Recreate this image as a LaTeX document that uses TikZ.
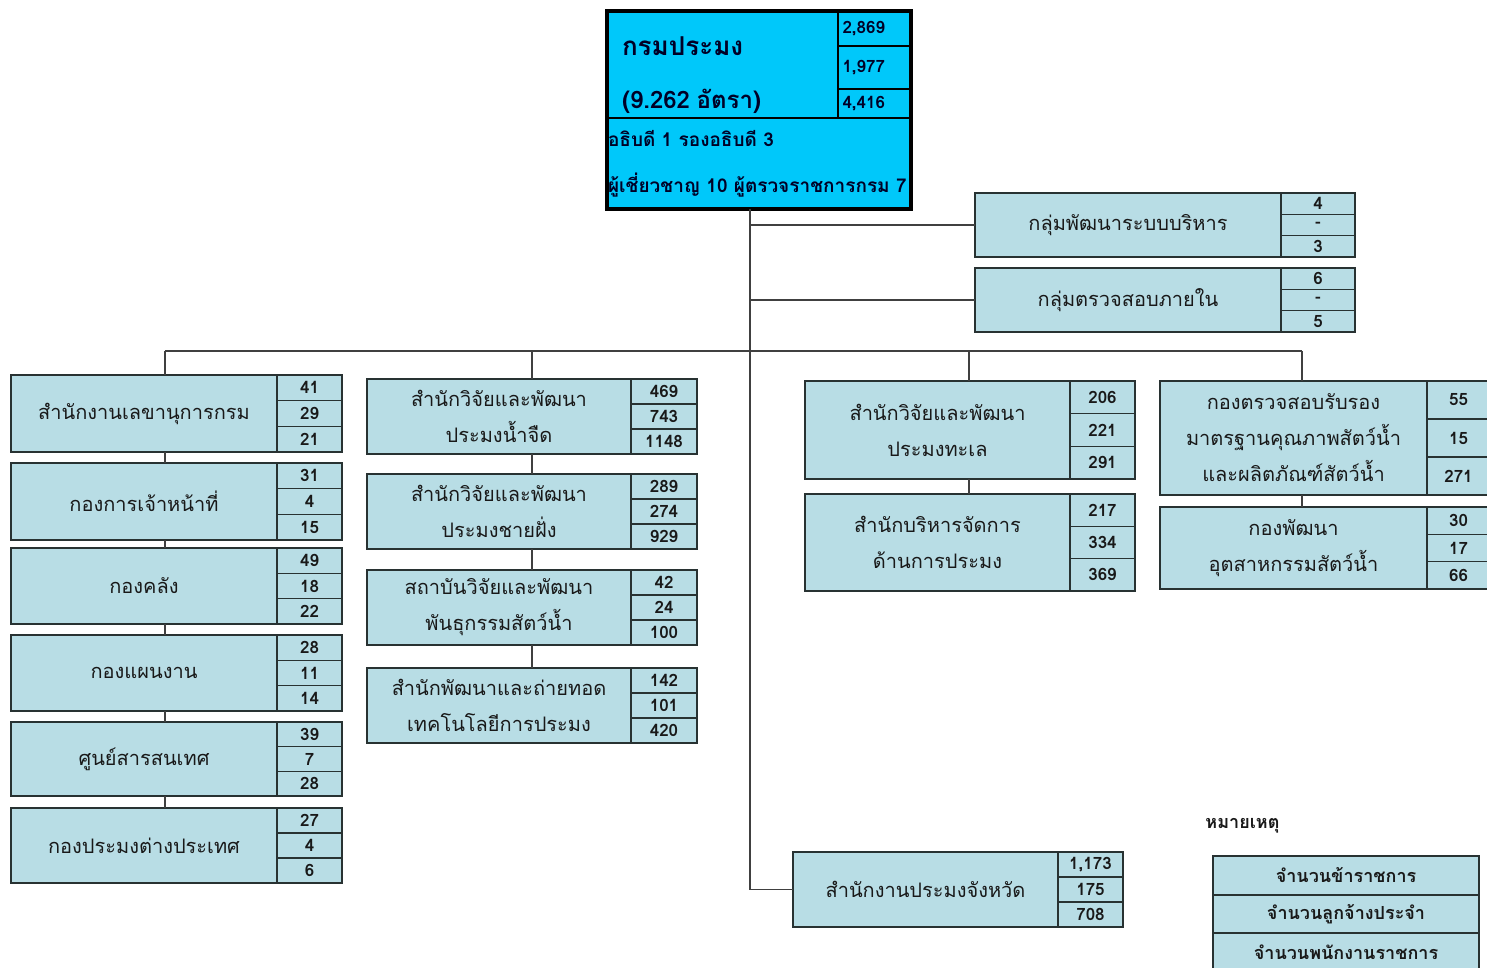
\documentclass[tikz,border=0pt]{standalone}
\usepackage{fontspec}
\setmainfont[Script=Thai]{Loma}
\usetikzlibrary{positioning}
\definecolor{krombg}{HTML}{00C8FA}
\definecolor{unitbg}{HTML}{B8DDE5}
\definecolor{edge}{HTML}{283232}
\tikzstyle{namebox} = [draw=edge, fill=unitbg, line width=1pt, inner sep=0pt, outer sep=0pt, align=center, text=black!90, font=\fontsize{10}{18}\selectfont]
\tikzstyle{numbox} = [draw=edge, fill=unitbg, line width=0.8pt, inner sep=0pt, outer sep=0pt, text=black!90, font=\fontsize{8.5}{10}\selectfont\bfseries]
\tikzstyle{topbox} = [draw=black, fill=krombg, line width=1.2pt, inner sep=0pt, outer sep=0pt, align=left, text=black!85!blue, font=\bfseries]
\tikzstyle{legendbox} = [draw=edge, fill=unitbg, line width=1pt, inner sep=0pt, outer sep=0pt, text=black!90, font=\fontsize{9}{10}\selectfont\bfseries]
\tikzstyle{link} = [draw=black!75, line width=0.8pt]
% name, top left, width, height, number column, text, numbers
\newcommand{\orgunit}[9]{%
	\node[namebox, minimum width={(#3-#5)*0.5pt}, minimum height={#4*0.5pt}, anchor=north west] (#1) at (#2) {#6};
	\node[numbox, minimum width={#5*0.5pt}, minimum height={#4*0.5pt/3}, anchor=north west] (#1-1) at (#1.north east) {#7};
	\node[numbox, minimum width={#5*0.5pt}, minimum height={#4*0.5pt/3}, anchor=north west] (#1-2) at (#1-1.south west) {#8};
	\node[numbox, minimum width={#5*0.5pt}, minimum height={#4*0.5pt/3}, anchor=north west] (#1-3) at (#1-2.south west) {#9};
}
\begin{document}
\begin{tikzpicture}[x=0.5pt, y=-0.5pt]
	\clip (0,0) rectangle (1487,968);
	\fill[white] (0,0) rectangle (1487,968);
	\coordinate (trunkx) at (750,0);
	\coordinate (busL) at (165,351);
	\coordinate (busM) at (532,351);
	\coordinate (busC) at (969,351);
	\coordinate (busR) at (1302,351);

	% top
	\node[topbox, minimum width=115.5pt, minimum height=53.5pt, text width=100.5pt, inner xsep=7.5pt, anchor=north west] (krom) at (607,11) {\rule{0pt}{17.5pt}{\fontsize{13}{16}\selectfont กรมประมง}\\[14.5pt]\raisebox{0pt}[\height][0pt]{\fontsize{12}{16}\selectfont (9.262 อัตรา)}};
	\node[topbox, minimum width=36.5pt, minimum height=17.5pt, text width=32pt, inner xsep=2.25pt, anchor=north west, font=\fontsize{8.5}{10}\selectfont\bfseries] (krom-1) at (krom.north east) {2,869};
	\node[topbox, minimum width=36.5pt, minimum height=21.5pt, text width=32pt, inner xsep=2.25pt, anchor=north west, font=\fontsize{8.5}{10}\selectfont\bfseries] (krom-2) at (krom-1.south west) {1,977};
	\node[topbox, minimum width=36.5pt, minimum height=14.5pt, text width=32pt, inner xsep=2.25pt, anchor=north west, font=\fontsize{8.5}{10}\selectfont\bfseries] (krom-3) at (krom-2.south west) {4,416};
	\node[topbox, minimum width=152pt, minimum height=45.5pt, text width=151pt, inner xsep=0.5pt, anchor=north west, font=\fontsize{9.5}{23}\selectfont\bfseries] (kromstaff) at (krom.south west) {อธิบดี 1 รองอธิบดี 3\\ผู้เชี่ยวชาญ 10 ผู้ตรวจราชการกรม 7};
	\draw[line width=1.6pt] (krom.north west) rectangle (kromstaff.south east);

	% groups
	\orgunit{devgroup}{975,193}{380}{64}{74}{กลุ่มพัฒนาระบบบริหาร}{4}{-}{3}
	\orgunit{auditgroup}{975,268}{380}{64}{74}{กลุ่มตรวจสอบภายใน}{6}{-}{5}

	% left column
	\orgunit{secretary}{11,375}{331}{77}{65}{สำนักงานเลขานุการกรม}{41}{29}{21}
	\orgunit{personnel}{11,463}{331}{77}{65}{กองการเจ้าหน้าที่}{31}{4}{15}
	\orgunit{finance}{11,548}{331}{76}{65}{กองคลัง}{49}{18}{22}
	\orgunit{planning}{11,635}{331}{76}{65}{กองแผนงาน}{28}{11}{14}
	\orgunit{infocenter}{11,722}{331}{74}{65}{ศูนย์สารสนเทศ}{39}{7}{28}
	\orgunit{foreign}{11,808}{331}{75}{65}{กองประมงต่างประเทศ}{27}{4}{6}

	% middle column
	\orgunit{freshwater}{367,379}{330}{75}{66}{สำนักวิจัยและพัฒนา\\ประมงน้ำจืด}{469}{743}{1148}
	\orgunit{coastal}{367,474}{330}{75}{66}{สำนักวิจัยและพัฒนา\\ประมงชายฝั่ง}{289}{274}{929}
	\orgunit{genetics}{367,570}{330}{75}{66}{สถาบันวิจัยและพัฒนา\\พันธุกรรมสัตว์น้ำ}{42}{24}{100}
	\orgunit{techtransfer}{367,668}{330}{75}{66}{สำนักพัฒนาและถ่ายทอด\\เทคโนโลยีการประมง}{142}{101}{420}

	% right columns
	\orgunit{marine}{805,381}{330}{98}{65}{สำนักวิจัยและพัฒนา\\ประมงทะเล}{206}{221}{291}
	\orgunit{fishmgmt}{805,494}{330}{97}{65}{สำนักบริหารจัดการ\\ด้านการประมง}{217}{334}{369}
	\orgunit{quality}{1160,381}{330}{114}{63}{กองตรวจสอบรับรอง\\มาตรฐานคุณภาพสัตว์น้ำ\\และผลิตภัณฑ์สัตว์น้ำ}{55}{15}{271}
	\orgunit{industry}{1160,507}{330}{82}{63}{กองพัฒนา\\อุตสาหกรรมสัตว์น้ำ}{30}{17}{66}

	% province
	\orgunit{province}{793,852}{330}{75}{65}{สำนักงานประมงจังหวัด}{1,173}{175}{708}

	% connectors
	\draw[link] (kromstaff.south -| trunkx) |- (province.west);
	\draw[link] (devgroup.west -| trunkx) -- (devgroup.west);
	\draw[link] (auditgroup.west -| trunkx) -- (auditgroup.west);
	\draw[link] (busL) -- (busR);
	\draw[link] (busL) -- (secretary.north -| busL);
	\draw[link] (busM) -- (freshwater.north -| busM);
	\draw[link] (busC) -- (marine.north -| busC);
	\draw[link] (busR) -- (quality.north -| busR);
	\foreach \a/\b in {secretary/personnel, personnel/finance, finance/planning, planning/infocenter, infocenter/foreign}
		\draw[link] (\a.south -| busL) -- (\b.north -| busL);
	\foreach \a/\b in {freshwater/coastal, coastal/genetics, genetics/techtransfer}
		\draw[link] (\a.south -| busM) -- (\b.north -| busM);
	\draw[link] (marine.south -| busC) -- (fishmgmt.north -| busC);
	\draw[link] (quality.south -| busR) -- (industry.north -| busR);

	% legend
	\node[anchor=west, inner sep=0pt, text=black!90, font=\fontsize{9}{10}\selectfont\bfseries] (notehead) at (1205,826) {หมายเหตุ};
	\node[legendbox, minimum width=133pt, minimum height=19.5pt, anchor=north west] (legend-1) at (1213,856) {จำนวนข้าราชการ};
	\node[legendbox, minimum width=133pt, minimum height=19pt, anchor=north west] (legend-2) at (legend-1.south west) {จำนวนลูกจ้างประจำ};
	\node[legendbox, minimum width=133pt, minimum height=19pt, anchor=north west] (legend-3) at (legend-2.south west) {จำนวนพนักงานราชการ};
\end{tikzpicture}
\end{document}
